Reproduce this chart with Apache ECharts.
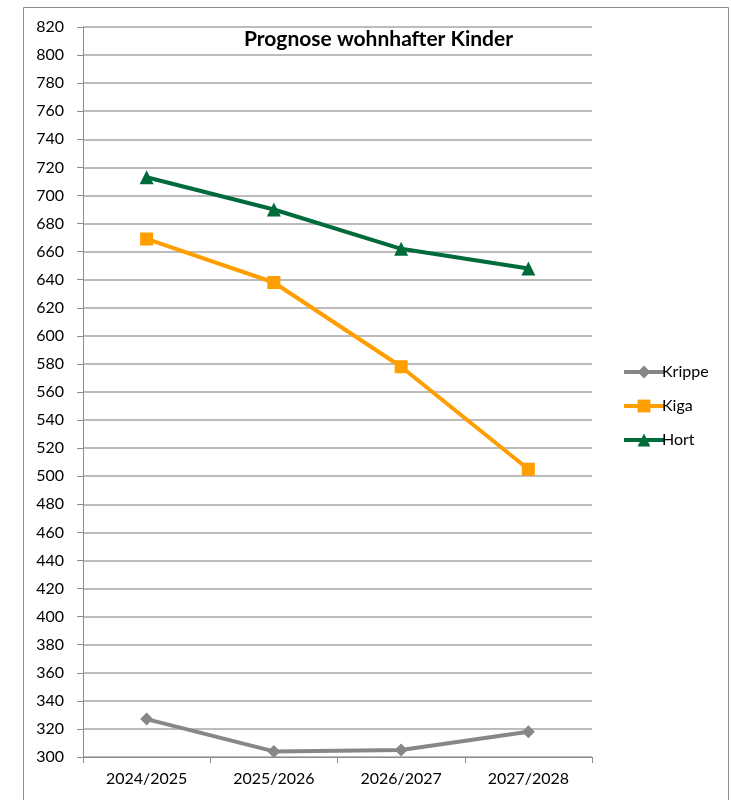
<!DOCTYPE html>
<html><head><meta charset="utf-8">
<script src="https://cdn.jsdelivr.net/npm/echarts@6/dist/echarts.min.js"></script>
<style>html,body{margin:0;padding:0;background:#fff}#c{width:731px;height:800px}</style>
</head><body><div id="c"></div>
<script>
const categories = ['2024/2025','2025/2026','2026/2027','2027/2028'];
const krippe = [327, 304, 305, 318];
const kiga = [669, 638, 578, 505];
const hort = [713, 690, 662, 648];
const yMin = 300, yMax = 820, yStep = 20;
const titleText = 'Prognose wohnhafter Kinder';

const font = 'Lato, "Open Sans", sans-serif';
const chart = echarts.init(document.getElementById('c'), null, {renderer:'canvas'});
chart.setOption({
  animation: false,
  backgroundColor: '#fff',
  graphic: [{type:'rect', shape:{x:23.5,y:7.5,width:705,height:800}, style:{fill:'none',stroke:'#8c8c8c',lineWidth:1}, silent:true}],
  title: {text:titleText, left: 239, top: 24, textStyle:{fontFamily:font, fontWeight:'bold', fontSize:21, color:'#000'}},
  grid: {left:83, right:139, top:27, bottom:43, containLabel:false},
  legend: {orient:'vertical', left:617, top:359, itemWidth:40, itemHeight:16, itemGap:18,
    textStyle:{fontFamily:font, fontSize:16, color:'#000', padding:[0,0,0,-7]},
    data:[
      {name:'Krippe', lineStyle:{width:4}},
      {name:'Kiga', lineStyle:{width:4}},
      {name:'Hort', lineStyle:{width:4}}
    ]},
  xAxis: {type:'category', data:categories, boundaryGap:true,
    axisLine:{lineStyle:{color:'#8c8c8c', width:1}},
    axisTick:{show:true, length:6, lineStyle:{color:'#8c8c8c'}},
    axisLabel:{fontFamily:font, fontSize:16, color:'#000', margin:14}},
  yAxis: {type:'value', min:yMin, max:yMax, interval:yStep,
    axisLine:{show:true, lineStyle:{color:'#8c8c8c', width:1}},
    axisTick:{show:true, length:6, lineStyle:{color:'#8c8c8c'}},
    splitLine:{lineStyle:{color:'#a6a6a6', width:1.5}},
    axisLabel:{fontFamily:font, fontSize:16, color:'#000', margin:19}},
  series: [
    {name:'Krippe', type:'line', data:krippe, symbol:'diamond', symbolSize:13,
      lineStyle:{color:'#878787', width:4}, itemStyle:{color:'#878787'}},
    {name:'Kiga', type:'line', data:kiga, symbol:'rect', symbolSize:13,
      lineStyle:{color:'#FF9E00', width:4}, itemStyle:{color:'#FF9E00'}},
    {name:'Hort', type:'line', data:hort, symbol:'triangle', symbolSize:14,
      lineStyle:{color:'#006B3A', width:4}, itemStyle:{color:'#006B3A'}}
  ]
});
</script></body></html>
